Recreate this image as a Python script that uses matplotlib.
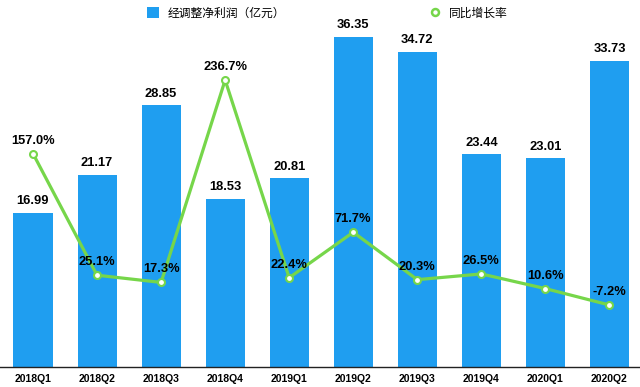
import matplotlib
matplotlib.use("Agg")
import matplotlib.pyplot as plt
from matplotlib.patches import Patch
from matplotlib.lines import Line2D
import numpy as np

plt.rcParams['font.family'] = ['Liberation Sans', 'Noto Sans CJK SC', 'DejaVu Sans']

quarters = ["2018Q1", "2018Q2", "2018Q3", "2018Q4", "2019Q1",
            "2019Q2", "2019Q3", "2019Q4", "2020Q1", "2020Q2"]
profit = [16.99, 21.17, 28.85, 18.53, 20.81, 36.35, 34.72, 23.44, 23.01, 33.73]
growth = [157.0, 25.1, 17.3, 236.7, 22.4, 71.7, 20.3, 26.5, 10.6, -7.2]
bar_label = "经调整净利润（亿元）"
line_label = "同比增长率"

bar_color = "#1f9ef0"
line_color = "#76d64a"

fig = plt.figure(figsize=(6.4, 3.87), dpi=100)
ax = fig.add_axes([0, 20/387, 1, 347/387])
x = np.arange(len(quarters))
ax.bar(x, profit, width=0.61, color=bar_color, zorder=1)
ax.set_xlim(-0.515, 9.477)
ax.set_ylim(0, 38.22)
for xi, v in zip(x, profit):
    ax.annotate(f"{v:.2f}", (xi, v), xytext=(0, 4), textcoords="offset points",
                ha="center", va="bottom", fontsize=9.3, fontweight="bold")
ax.set_yticks([])
ax.set_xticks(x)
ax.set_xticklabels(quarters, fontsize=7.5, fontweight="bold")
ax.tick_params(axis="x", length=0, pad=5)
for s in ["top", "right", "left"]:
    ax.spines[s].set_visible(False)
ax.spines["bottom"].set_linewidth(1.0)
ax.spines["bottom"].set_color("#222222")

ax2 = ax.twinx()
ax2.plot(x, growth, color=line_color, lw=2.3, marker="o", ms=5,
         mfc="white", mec=line_color, mew=1.5, zorder=3)
ax2.set_ylim(-74.4, 301.8)
ax2.set_yticks([])
for s in ["top", "right", "left", "bottom"]:
    ax2.spines[s].set_visible(False)
for xi, v in zip(x, growth):
    ax2.annotate(f"{v:.1f}%", (xi, v), xytext=(0, 5), textcoords="offset points",
                 ha="center", va="bottom", fontsize=9.3, fontweight="bold", zorder=4)

handles = [Patch(facecolor=bar_color, edgecolor="none"),
           Line2D([], [], color=line_color, lw=0, marker="o", ms=5,
                  mfc="white", mec=line_color, mew=1.8)]
fig.legend(handles, [bar_label, line_label], loc="upper left",
           bbox_to_anchor=(140/640, 1.0), ncol=2, frameon=False,
           fontsize=8.5, columnspacing=12.2, handlelength=1.0, handleheight=1.0,
           handletextpad=0.7, borderpad=0.1)

fig.savefig("out.png", dpi=100)
